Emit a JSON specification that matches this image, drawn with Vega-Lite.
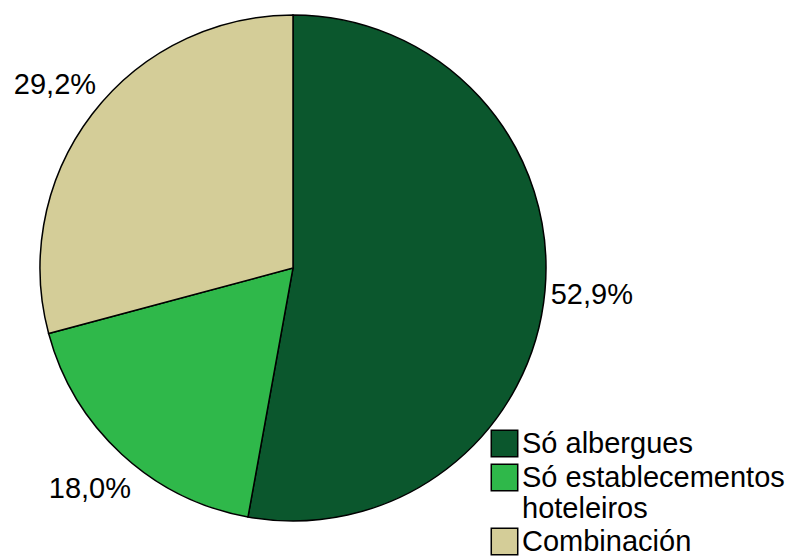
{
  "$schema": "https://vega.github.io/schema/vega-lite/v6.json",
  "autosize": {"type": "none"},
  "padding": {"left": 0, "top": 0, "right": 207, "bottom": 20},
  "width": 586,
  "height": 536,
  "background": "white",
  "data": {
    "values": [
      {"categoria": "Só albergues", "pct": 52.9, "etiqueta": "52,9%", "orden": 1},
      {"categoria": "Só establecementos hoteleiros", "pct": 18.0, "etiqueta": "18,0%", "orden": 2},
      {"categoria": "Combinación", "pct": 29.2, "etiqueta": "29,2%", "orden": 3}
    ]
  },
  "encoding": {
    "theta": {"field": "pct", "type": "quantitative", "stack": true},
    "order": {"field": "orden", "type": "quantitative"}
  },
  "layer": [
    {
      "mark": {"type": "arc", "radius": 253, "stroke": "black", "strokeWidth": 1.5},
      "encoding": {
        "color": {
          "field": "categoria",
          "type": "nominal",
          "scale": {
            "domain": ["Só albergues", "Só establecementos hoteleiros", "Combinación"],
            "range": ["#0b572d", "#2fb84a", "#d4cd98"]
          },
          "legend": {
            "title": null,
            "orient": "none",
            "legendX": 490,
            "legendY": 429,
            "symbolType": "square",
            "symbolSize": 700,
            "symbolStrokeColor": "black",
            "symbolStrokeWidth": 1.5,
            "symbolOpacity": 1,
            "labelFont": "Liberation Sans",
            "labelFontSize": 29,
            "labelColor": "black",
            "labelLimit": 400,
            "labelOffset": 3,
            "rowPadding": 1,
            "labelExpr": "datum.label == 'Só establecementos hoteleiros' ? ['Só establecementos', 'hoteleiros'] : datum.label"
          }
        }
      }
    },
    {
      "mark": {"type": "text", "radius": 300, "font": "Liberation Sans", "fontSize": 29, "color": "black", "align": "center", "baseline": "middle"},
      "encoding": {
        "text": {"field": "etiqueta", "type": "nominal"}
      }
    }
  ]
}
